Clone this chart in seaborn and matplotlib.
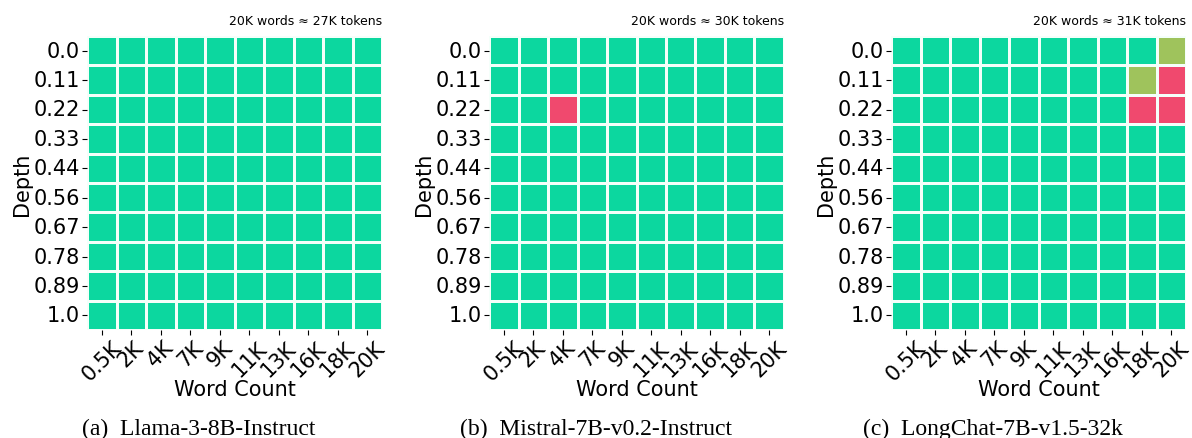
import numpy as np
import pandas as pd
import matplotlib
matplotlib.use('Agg')
import matplotlib.pyplot as plt
import seaborn as sns
from matplotlib.colors import LinearSegmentedColormap

# 데이터
depths = ['0.0', '0.11', '0.22', '0.33', '0.44', '0.56', '0.67', '0.78', '0.89', '1.0']
word_counts = ['0.5K', '2K', '4K', '7K', '9K', '11K', '13K', '16K', '18K', '20K']
models = ['Llama-3-8B-Instruct', 'Mistral-7B-v0.2-Instruct', 'LongChat-7B-v1.5-32k']
captions = ['(a)  Llama-3-8B-Instruct', '(b)  Mistral-7B-v0.2-Instruct', '(c)  LongChat-7B-v1.5-32k']
token_notes = ['20K words \u2248 27K tokens', '20K words \u2248 30K tokens', '20K words \u2248 31K tokens']

# 점수 (1 = 성공, 0 = 실패), 행 = depth, 열 = word count
llama_scores = [[1, 1, 1, 1, 1, 1, 1, 1, 1, 1]] * 10

mistral_scores = [[1, 1, 1, 1, 1, 1, 1, 1, 1, 1]] * 10
mistral_scores[2] = [1, 1, 0, 1, 1, 1, 1, 1, 1, 1]

longchat_scores = [[1, 1, 1, 1, 1, 1, 1, 1, 1, 1]] * 10
longchat_scores[0] = [1, 1, 1, 1, 1, 1, 1, 1, 1, 0.67]
longchat_scores[1] = [1, 1, 1, 1, 1, 1, 1, 1, 0.67, 0]
longchat_scores[2] = [1, 1, 1, 1, 1, 1, 1, 1, 0, 0]

all_scores = [llama_scores, mistral_scores, longchat_scores]

cmap = LinearSegmentedColormap.from_list('custom_cmap', ['#F0496E', '#EBB839', '#0CD79F'])

fig = plt.figure(figsize=(11.92, 4.39), dpi=100)
lefts = [87 / 1192, 489 / 1192, 891 / 1192]

for i in range(3):
    ax = fig.add_axes([lefts[i], 108 / 439, 295 / 1192, 294 / 439])
    df = pd.DataFrame(all_scores[i], index=depths, columns=word_counts)
    sns.heatmap(df, ax=ax, cmap=cmap, vmin=0, vmax=1, cbar=False,
                linewidths=1.0, linecolor='#f4fffa')
    ax.set_xlabel('Word Count', fontsize=15, labelpad=-4)
    ax.set_ylabel('Depth', fontsize=15, labelpad=1)
    ax.set_xticklabels(word_counts, rotation=45, fontsize=15)
    ax.set_yticklabels(depths, rotation=0, fontsize=15)
    ax.tick_params(axis='y', pad=1.5)
    ax.tick_params(axis='x', pad=1.5)
    ax.text(1.0, 1.03, token_notes[i], transform=ax.transAxes,
            ha='right', va='bottom', fontsize=9)
    # 아래 캡션 (serif)
    fig.text((2 * i + 1) / 6, 0.022, captions[i], ha='center', va='center',
             fontsize=17, family='Liberation Serif')

plt.savefig('out.png', dpi=100)
